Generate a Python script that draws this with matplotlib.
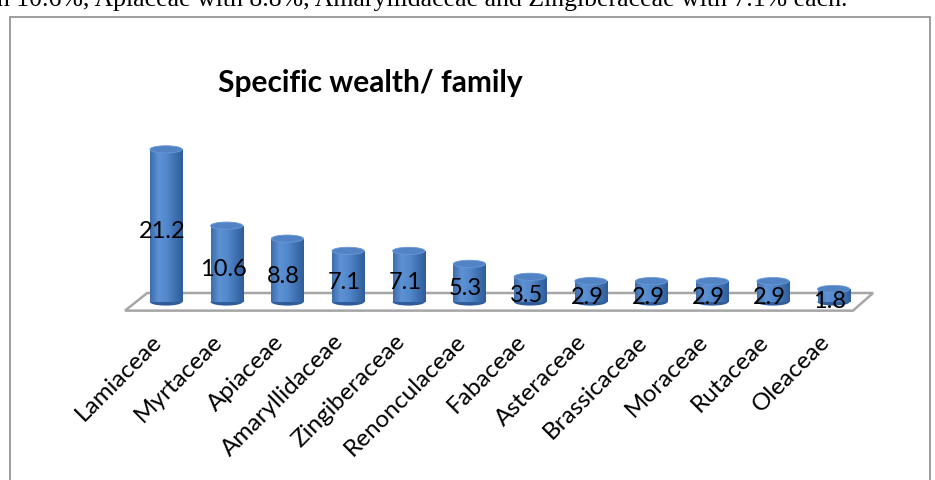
import numpy as np
import matplotlib
matplotlib.use("Agg")
import matplotlib.pyplot as plt
from matplotlib.patches import Ellipse, Rectangle, Polygon
from matplotlib.colors import LinearSegmentedColormap
from matplotlib.transforms import ScaledTranslation

# Dados: riqueza específica por família (%)
familias = ["Lamiaceae", "Myrtaceae", "Apiaceae", "Amaryllidaceae", "Zingiberaceae",
            "Renonculaceae", "Fabaceae", "Asteraceae", "Brassicaceae", "Moraceae",
            "Rutaceae", "Oleaceae"]
valores = [21.2, 10.6, 8.8, 7.1, 7.1, 5.3, 3.5, 2.9, 2.9, 2.9, 2.9, 1.8]

W, H = 935, 480
fig = plt.figure(figsize=(W / 100, H / 100), dpi=100)

# texto cortado no topo (parágrafo do documento)
fig.text(848 / W, 1 - 6 / H,
         "with 10.6%, Apiaceae with 8.8%, Amaryllidaceae and Zingiberaceae with 7.1% each.",
         ha="right", va="baseline", fontsize=18.5, family="Liberation Serif", color="black")

# moldura do gráfico
fig.patches.append(Rectangle((10 / W, -0.05), 920 / W, 1.05 - 17 / H, transform=fig.transFigure,
                             fill=False, edgecolor="#8c8c8c", linewidth=1.2))

ax = fig.add_axes([105.3 / W, 163.6 / H, 789 / W, 230.4 / H])
ax.set_xlim(-1, 12)
ax.set_ylim(-2, 30)
ax.patch.set_alpha(0)
for s in ax.spines.values():
    s.set_visible(False)
ax.tick_params(left=False, labelleft=False, bottom=False)
ax.set_yticks([])

n = len(valores)
# chão em perspectiva
piso = Polygon([(-0.675, -1.2), (n - 0.68, -1.2), (n - 0.35, 1.25), (-0.31, 1.25)],
               closed=True, facecolor="none", edgecolor="#a6a6a6", linewidth=1.8, zorder=1)
ax.add_patch(piso)

cmap = LinearSegmentedColormap.from_list("cil", ["#3d6cab", "#5d92d5", "#5389cc", "#4072b2", "#305d9a"])
grad = np.linspace(0, 1, 64).reshape(1, -1)
larg = 0.53
eh = 1.0  # altura da elipse em unidades de dados

for i, v in enumerate(valores):
    base = Ellipse((i, 0), larg, eh, facecolor="#305d9a", edgecolor="none", zorder=2)
    ax.add_patch(base)
    corpo = Rectangle((i - larg / 2, 0), larg, v, facecolor="none", edgecolor="none", zorder=2)
    ax.add_patch(corpo)
    im = ax.imshow(grad, extent=(i - larg / 2, i + larg / 2, 0, v), aspect="auto",
                   cmap=cmap, zorder=2, interpolation="bicubic")
    im.set_clip_path(corpo)
    topo = Ellipse((i, v), larg, eh, facecolor="#5283c4", edgecolor="#6a98d6",
                   linewidth=0.6, zorder=3)
    ax.add_patch(topo)
    ax.text(i - 0.06, v / 2 - 0.8, f"{v:.1f}", ha="center", va="center",
            fontsize=17, family="Lato", color="black", zorder=5)

ax.set_xticks(range(n))
ax.set_xticklabels(familias, rotation=45, ha="right", rotation_mode="anchor",
                   fontsize=17.5, family="Lato")
ax.tick_params(axis="x", pad=7)
desloc = ScaledTranslation(-15 / 100, 0, fig.dpi_scale_trans)
for lab in ax.get_xticklabels():
    lab.set_transform(lab.get_transform() + desloc)

fig.text(370 / W, 1 - 83 / H, "Specific wealth/ family", ha="center", va="center",
         fontsize=21.5, fontweight="bold", family="Lato")

plt.savefig("out.png", dpi=100)
